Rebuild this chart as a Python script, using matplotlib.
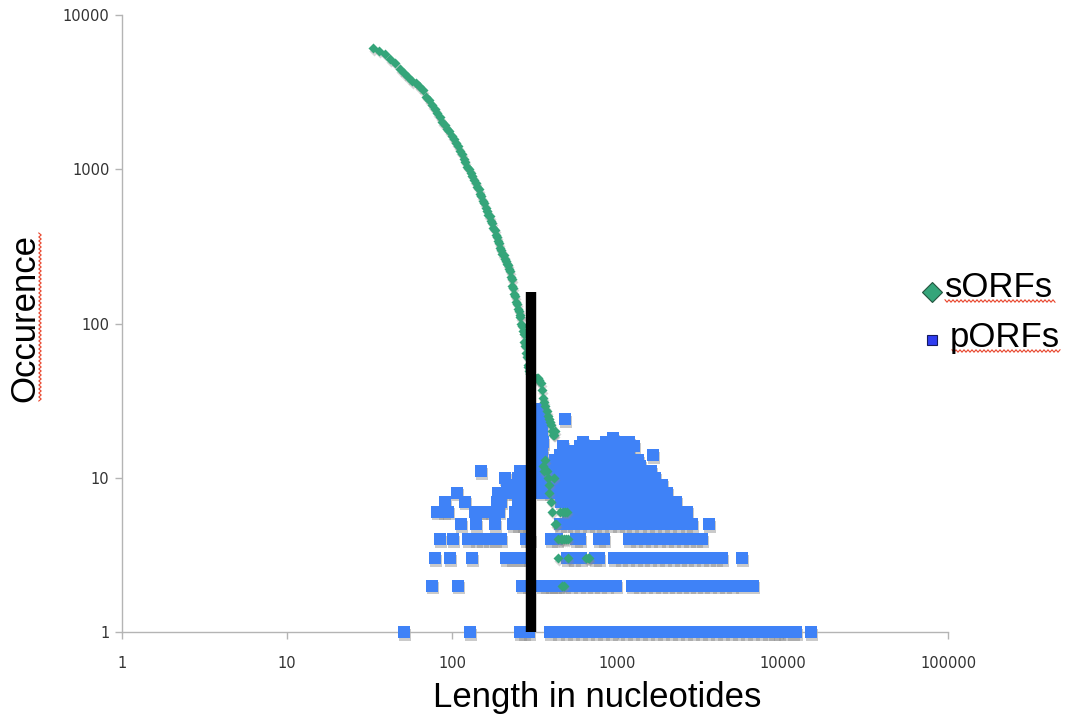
import numpy as np
import matplotlib
matplotlib.use("Agg")
import matplotlib.pyplot as plt
from matplotlib.lines import Line2D
from matplotlib.transforms import offset_copy

# ---- sORFs: occurrence per ORF length (nt) ----
sorf_len = [33, 36, 39, 42, 45, 48, 51, 54, 57, 60, 63, 66, 69, 72, 75, 78, 81, 84, 87, 90,
            93, 96, 99, 102, 105, 108, 111, 114, 117, 120, 123, 126, 129, 132, 135, 138, 141,
            144, 147, 150, 153, 156, 159, 162, 165, 168, 171, 174, 177, 180, 183, 186, 189,
            192, 195, 198, 201, 204, 207, 210, 213, 216, 219, 222, 225, 228, 231, 234, 237,
            240, 243, 246, 249, 252, 255, 258, 261, 264, 267, 270, 273, 276, 279, 282, 285,
            288, 291, 294, 297]
sorf_count = [6100, 5850, 5600, 5150, 4900, 4450, 4200, 3950, 3720, 3650, 3450, 3250, 2960,
              2800, 2600, 2470, 2300, 2180, 2020, 1940, 1830, 1760, 1640, 1570, 1470, 1410,
              1310, 1260, 1170, 1120, 1040, 1010, 940, 905, 850, 815, 770, 740, 695, 670, 625,
              600, 560, 540, 505, 495, 462, 450, 418, 405, 376, 366, 342, 332, 308, 300, 282,
              278, 260, 256, 243, 240, 224, 218, 200, 194, 176, 170, 155, 150, 138, 134, 124,
              121, 113, 110, 100, 97, 89, 85, 76, 72, 64, 61, 54, 52, 49, 48, 47]

# sORFs past the 300 nt cut-off
sorf_tail_len = [300, 306, 312, 318, 324, 330, 336, 342, 348, 354, 360, 366, 372, 378, 384,
                 390, 396, 402, 408, 414, 420, 354, 360, 366, 372, 381, 384, 387, 396, 402,
                 411, 417, 423, 437, 453, 462, 474, 486, 498, 447, 465, 480, 492, 437, 500,
                 645, 660, 675, 460, 472]
sorf_tail_count = [46, 45, 45, 44, 44, 44, 43, 41, 37, 33, 31, 29, 27, 25, 24,
                   23, 22, 20, 19, 19, 20, 12, 11, 13, 11, 10, 9, 8, 7, 6,
                   10, 5, 5, 4, 4, 4, 4, 4, 4, 6, 6, 6, 6, 3, 3,
                   3, 3, 3, 2, 2]

# ---- pORFs: lengths found at each occurrence count ----
porf_len_1 = [51, 127, 255, 270, 290, 390, 435, 485, 540, 600, 665, 740, 820, 910, 1010,
              1120, 1240, 1380, 1530, 1700, 1890, 2100, 2330, 2590, 2870, 3190, 3540, 3930,
              4360, 4840, 5370, 5960, 6620, 7350, 8150, 8800, 9450, 10100, 11500, 12100,
              14900]
porf_len_2 = [75, 108, 265, 285, 350, 370, 395, 420, 437, 475, 525, 580, 640, 705, 780, 860,
              973, 1222, 1350, 1490, 1650, 1820, 2010, 2220, 2450, 2710, 2990, 3300, 3650,
              4030, 4450, 4920, 5560, 6630]
porf_len_3 = [79, 97, 131, 212, 230, 250, 270, 290, 495, 545, 600, 725, 775, 950, 1050, 1160,
              1290, 1430, 1580, 1750, 1940, 2150, 2380, 2640, 2920, 3240, 3590, 3950, 4300,
              5640]
porf_len_4 = [84, 101, 124, 138, 152, 167, 181, 198, 280, 295, 395, 430, 560, 590, 770, 830,
              1170, 1300, 1440, 1600, 1780, 1980, 2200, 2450, 2720, 3000, 3260]
porf_len_5 = [113, 139, 181, 232, 250, 268, 285, 445, 490, 540, 590, 660, 730, 810, 900,
              1000, 1110, 1230, 1370, 1520, 1690, 1870, 2080, 2310, 2600, 2830, 3575]
porf_len_6 = [81, 89, 94, 137, 148, 160, 172, 192, 240, 267, 500, 555, 615, 680, 755, 840,
              930, 1030, 1150, 1270, 1410, 1570, 1740, 1930, 2140, 2380, 2620]
porf_len_7 = [90, 119, 185, 198, 250, 280, 455, 505, 560, 620, 690, 765, 850, 940, 1045,
              1160, 1290, 1430, 1590, 1760, 1960, 2250]
porf_len_8 = [106, 189, 215, 235, 255, 275, 350, 390, 435, 485, 540, 600, 665, 740, 820,
              910, 1010, 1120, 1250, 1390, 1540, 1710, 1900, 2000]
porf_len_9 = [215, 228, 260, 280, 350, 390, 435, 485, 540, 600, 665, 740, 820, 910, 1010,
              1120, 1250, 1390, 1540, 1710, 1850]
porf_len_10 = [208, 249, 265, 345, 385, 430, 480, 530, 590, 655, 730, 810, 900, 1000, 1110,
               1230, 1370, 1520, 1690]
porf_len_11 = [150, 255, 345, 390, 440, 500, 560, 625, 700, 780, 870, 970, 1080, 1200,
               1330, 1480, 1600]
porf_len_12 = [345, 390, 450, 510, 570, 640, 720, 800, 890, 990, 1100, 1220, 1360]
porf_len_13 = [350, 420, 480, 560, 620, 700, 780, 870, 960, 1080, 1200, 1330]
porf_len_14 = [350, 450, 530, 610, 690, 760, 860, 960, 1060, 1180, 1645]
porf_len_15 = [345, 500, 560, 660, 740, 830, 1000, 1100]
porf_len_16 = [350, 470, 590, 700, 780, 900, 1050, 1250]
porf_len_17 = [355, 620, 847, 1000, 1172]
porf_len_18 = [345, 942]
porf_top_len = [345, 350, 345, 345, 350, 345, 348, 482]
porf_top_count = [19, 20, 21, 22, 24, 26, 28, 24]

cutoff_len = 300
cutoff_top = 160

x_ticks = [1, 10, 100, 1000, 10000, 100000]
x_tick_labels = ["1", "10", "100", "1000", "10000", "100000"]
y_ticks = [1, 10, 100, 1000, 10000]
y_tick_labels = ["1", "10", "100", "1000", "10000"]

green = "#35a57a"
blue = "#3f82f7"

porf_rows = [porf_len_1, porf_len_2, porf_len_3, porf_len_4, porf_len_5, porf_len_6,
             porf_len_7, porf_len_8, porf_len_9, porf_len_10, porf_len_11, porf_len_12,
             porf_len_13, porf_len_14, porf_len_15, porf_len_16, porf_len_17, porf_len_18]
px, py = [], []
for count, lens in enumerate(porf_rows, start=1):
    px += lens
    py += [count] * len(lens)
px += porf_top_len
py += porf_top_count

sx = sorf_len + sorf_tail_len
sy = sorf_count + sorf_tail_count

W, H = 1069, 723
fig = plt.figure(figsize=(W / 100, H / 100), dpi=100)
ax = fig.add_axes([122 / W, 1 - 632 / H, 826 / W, 617 / H])
ax.set_xscale("log")
ax.set_yscale("log")
ax.set_xlim(1, 1e5)
ax.set_ylim(1, 1e4)

# drop shadows under the markers
shadow = offset_copy(ax.transData, fig=fig, x=1, y=-2.5, units="dots")
ax.scatter(px, py, s=70, marker="s", color="#8a8a8a", alpha=0.45, linewidths=0,
           transform=shadow, zorder=2, clip_on=False)
ax.scatter(px, py, s=70, marker="s", color=blue, linewidths=0, zorder=3, clip_on=False)

ax.scatter(sx, sy, s=26, marker="D", color="#8a8a8a", alpha=0.35, linewidths=0,
           transform=shadow, zorder=4, clip_on=False)
ax.scatter(sx, sy, s=26, marker="D", color=green, linewidths=0, zorder=5, clip_on=False)

# 300 nt cut-off
ax.plot([cutoff_len, cutoff_len], [1, cutoff_top], color="black", lw=7.5,
        solid_capstyle="butt", zorder=6)

for side in ["top", "right"]:
    ax.spines[side].set_visible(False)
for side in ["left", "bottom"]:
    ax.spines[side].set_color("#b4b4b4")
    ax.spines[side].set_linewidth(1)
ax.minorticks_off()
ax.set_xticks(x_ticks)
ax.set_xticklabels(x_tick_labels)
ax.set_yticks(y_ticks)
ax.set_yticklabels(y_tick_labels)
ax.tick_params(axis="both", length=5, width=1, color="#b4b4b4", labelsize=10.5,
               labelcolor="#333333")
ax.tick_params(axis="x", pad=12)
ax.tick_params(axis="y", pad=4)

font = "Liberation Sans"
fig.text(25 / W, 1 - 318 / H, "Occurence", rotation=90, ha="center", va="center",
         fontsize=25, family=font)
fig.text(597 / W, 1 - 697 / H, "Length in nucleotides", ha="center", va="center",
         fontsize=25, family=font)

# legend drawn by hand at the right
fig.add_artist(Line2D([932 / W], [1 - 292 / H], marker="D", ms=10.5, color=green,
                      mec="#24543f", mew=0.8, transform=fig.transFigure))
fig.add_artist(Line2D([932 / W], [1 - 340 / H], marker="s", ms=7, color="#2f3cf0",
                      mec="#151a60", mew=0.8, transform=fig.transFigure))
fig.text(945 / W, 1 - 288 / H, "sORFs", ha="left", va="center", fontsize=25, family=font)
fig.text(950 / W, 1 - 337 / H, "pORFs", ha="left", va="center", fontsize=25, family=font)


def squiggle(x0, x1, y0, vertical=False):
    t = np.arange(0, x1 - x0, 2.0)
    off = np.where(np.arange(len(t)) % 2 == 0, -1.2, 1.2)
    if vertical:
        xs, ys = (y0 + off) / W, 1 - (x0 + t) / H
    else:
        xs, ys = (x0 + t) / W, 1 - (y0 + off) / H
    fig.add_artist(Line2D(xs, ys, color="#e8452c", lw=0.8, transform=fig.transFigure))


squiggle(945, 1057, 301)
squiggle(952, 1062, 351)
squiggle(233, 402, 40, vertical=True)

fig.savefig("out.png", dpi=100)
